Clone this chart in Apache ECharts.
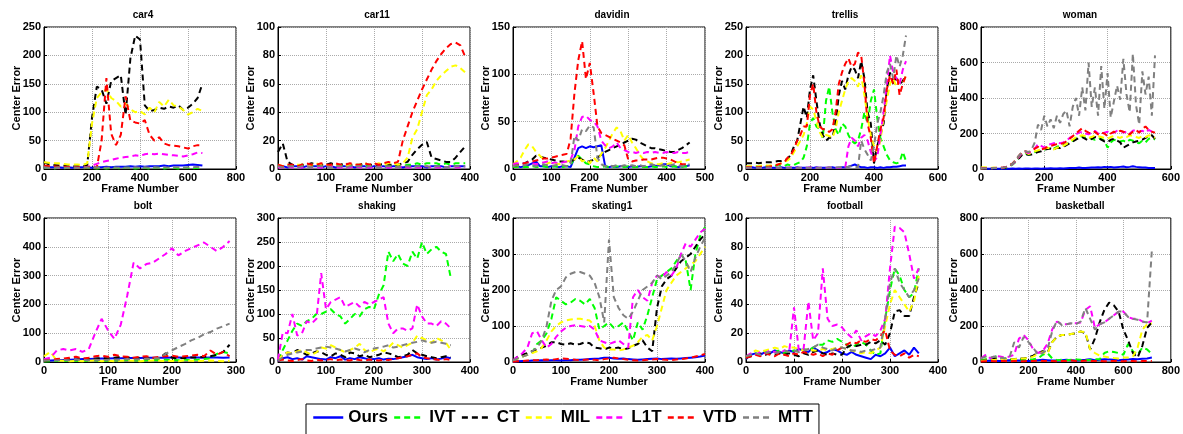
<!DOCTYPE html>
<html>
<head>
<meta charset="utf-8">
<script src="https://cdn.jsdelivr.net/npm/echarts@6/dist/echarts.min.js"></script>
<style>
  html, body { margin: 0; background: #fff; }
  #main { width: 1183px; height: 434px; }
</style>
</head>
<body>
<div id="main"></div>
<script>
// trackers, in legend order
const methods = ['Ours', 'IVT', 'CT', 'MIL', 'L1T', 'VTD', 'MTT']
const sequences = ['car4', 'car11', 'davidin', 'trellis', 'woman', 'bolt', 'shaking', 'skating1', 'football', 'basketball']
// frames between two samples, axis ranges and tick steps
const frameStep = [20, 10, 10, 10, 10, 10, 10, 10, 10, 20]
const xMax = [800, 400, 500, 600, 600, 300, 400, 400, 400, 800]
const xTick = [200, 100, 100, 200, 200, 100, 100, 100, 100, 200]
const yMax = [250, 100, 150, 250, 800, 500, 300, 400, 100, 800]
const yTick = [50, 20, 50, 50, 200, 100, 50, 100, 20, 200]

// center error per sequence: one row per tracker (Ours, IVT, CT, MIL, L1T, VTD, MTT)
const car4 = [
  [4,3,3,3,2,3,2,3,3,3,2,3,3,4,3,4,4,4,5,4,5,4,5,5,5,6,5,6,6,6,7,8,7,6],
  [2,2,1,2,1,2,1,2,1,2,2,1,2,1,2,2,1,2,2,1,2,2,1,2,2,1,2,2,1,2,2,1,2,2],
  [12,8,7,6,6,5,5,5,5,6,90,145,140,115,155,160,165,95,195,235,228,112,102,104,108,106,110,108,112,104,108,115,125,150],
  [12,11,10,10,9,8,8,8,7,10,80,125,135,140,125,120,110,115,105,100,102,96,108,100,118,110,122,112,110,104,96,100,106,102],
  [3,3,3,2,3,3,3,2,3,4,6,9,12,14,16,18,20,21,22,24,23,26,27,26,27,26,25,24,23,22,24,26,29,28],
  [6,5,5,4,4,3,3,3,2,3,4,2,50,160,62,42,60,128,85,82,80,86,60,50,56,45,42,41,40,38,36,40,42,42],
  [3,2,2,3,2,2,3,2,2,3,2,3,2,2,3,2,3,2,2,3,2,3,2,3,2,3,2,3,3,2,3,3,4,3]
]
const car11 = [
  [2,2,1,2,2,1,2,2,2,1,2,2,1,2,2,2,1,2,2,1,2,2,2,1,2,2,1,2,2,2,2,1,2,2,2,1,2,2,2,2],
  [2,2,2,2,2,3,2,2,3,2,2,3,2,2,3,2,2,2,3,2,2,3,2,2,3,2,2,3,3,4,3,4,4,4,3,4,3,4,4,4],
  [12,18,5,3,2,3,3,4,3,3,3,4,3,3,4,3,3,3,4,3,3,3,4,3,3,3,4,5,10,14,17,19,8,7,6,5,5,8,12,16],
  [3,2,3,2,3,3,2,3,4,3,3,2,3,3,2,3,3,3,4,3,3,4,3,4,4,3,4,8,22,28,40,52,56,62,66,69,72,73,71,68],
  [1,1,2,1,1,1,2,1,1,1,1,2,1,1,1,1,2,1,1,1,1,2,1,1,1,1,2,1,1,1,1,2,1,1,1,1,2,1,1,1],
  [3,2,3,3,2,3,4,3,3,4,3,3,4,3,3,4,3,3,4,3,4,3,4,5,4,5,20,30,40,48,56,63,70,76,81,85,88,89,87,79],
  [2,1,2,2,1,2,2,1,2,2,2,1,2,2,1,2,2,2,1,2,2,1,2,2,2,1,2,2,1,2,2,2,1,2,2,1,2,2,2,2]
]
const davidin = [
  [3,3,2,3,4,6,8,3,3,2,3,3,2,3,3,2,12,22,24,22,24,23,24,25,3,2,3,2,3,3,2,3,2,3,3,2,3,3,4,5,5,3,3,2,3,3,4],
  [2,2,3,2,2,3,2,2,3,2,2,3,2,2,3,4,12,14,10,6,5,3,2,2,3,2,2,3,2,2,3,2,2,3,2,2,3,2,2,3,2,2,3,2,2,3,2],
  [3,4,5,6,8,10,14,13,12,11,10,9,8,8,7,8,10,12,10,8,8,10,12,15,18,20,22,24,26,28,30,32,31,28,26,24,22,22,21,20,19,18,18,20,22,25,28],
  [5,8,12,20,26,24,18,14,10,6,7,6,5,6,8,9,10,14,8,10,6,12,8,16,22,30,38,44,40,30,36,28,22,15,10,8,6,5,5,6,5,6,8,7,8,9,10],
  [5,6,5,6,7,6,5,6,7,8,6,7,6,7,8,10,20,45,55,56,52,50,45,30,25,22,24,28,22,20,18,18,17,18,17,18,17,18,17,17,18,17,17,18,17,17,18],
  [3,4,5,6,7,8,9,10,11,11,12,13,14,15,16,32,80,115,135,95,112,80,45,38,36,34,32,30,28,25,10,8,9,9,10,10,10,11,12,12,11,10,8,6,5,5,5],
  [3,4,3,4,5,4,3,4,5,4,3,4,5,4,3,5,35,30,42,40,46,44,12,5,3,4,3,4,3,4,3,4,3,4,3,4,5,4,3,4,3,4,5,4,3,4,5]
]
const trellis = [
  [2,2,3,2,2,2,3,2,2,2,2,3,2,2,2,2,3,2,2,2,2,2,3,2,2,2,2,3,2,2,3,3,4,6,8,5,3,3,2,3,3,2,3,2,3,3,4,4,5,6,6],
  [3,4,3,5,4,6,5,4,6,5,7,6,5,8,6,7,10,12,20,40,80,90,75,70,55,120,145,100,70,60,80,75,60,50,45,50,70,100,80,120,140,90,55,40,25,15,12,10,12,30,14],
  [10,10,10,11,10,11,12,12,12,13,14,14,15,18,25,40,50,80,110,90,140,165,120,80,60,50,55,55,80,130,155,140,165,180,175,160,190,160,100,80,10,40,60,80,140,170,150,160,150,155,165],
  [5,5,5,5,5,6,6,6,6,7,8,10,12,15,20,30,40,50,60,80,110,105,85,65,55,60,58,55,70,100,120,140,155,160,155,145,165,130,90,60,40,30,50,90,120,150,160,145,155,150,165],
  [2,2,2,3,2,2,2,2,3,2,2,2,2,2,3,2,2,2,2,2,3,2,2,2,2,2,3,2,2,2,2,2,40,55,50,40,55,60,50,30,15,20,60,100,150,200,170,160,150,175,190],
  [3,3,3,3,3,4,4,4,5,6,8,10,12,20,25,35,50,60,75,75,130,150,100,75,70,70,65,70,100,150,170,185,195,180,185,205,200,150,80,55,10,40,70,90,140,165,150,175,130,150,165],
  [2,2,2,2,2,2,2,3,2,2,2,2,2,2,2,3,2,2,2,2,2,2,2,2,2,2,3,2,2,3,3,3,4,5,4,3,50,35,25,15,40,80,100,130,170,185,160,200,180,200,235]
]
const woman = [
  [2,2,2,2,3,2,2,3,2,2,3,2,3,2,3,3,2,3,3,2,3,3,4,3,3,4,3,4,5,5,6,8,6,5,7,9,8,10,8,12,10,12,8,10,12,14,10,12,15,12,10,8,8,6,5,5],
  [3,4,5,4,6,5,4,6,8,15,25,40,65,85,90,80,85,95,100,105,110,115,120,115,125,130,135,140,150,160,175,180,185,175,180,170,165,175,170,160,120,150,165,160,155,160,150,165,160,150,145,160,150,170,175,165],
  [2,3,4,3,5,4,5,6,10,18,30,45,60,80,85,80,82,90,95,100,108,112,115,110,120,118,125,135,145,155,165,175,180,170,160,170,180,175,165,155,150,165,170,160,150,120,130,140,150,155,160,165,175,185,190,170],
  [8,10,8,6,8,7,6,8,12,20,30,50,70,90,95,85,90,100,105,110,115,120,115,110,120,125,130,140,155,165,180,185,190,185,175,180,190,185,180,175,170,180,185,180,175,185,180,190,185,180,175,185,180,190,185,175],
  [4,5,6,5,6,7,6,8,12,18,28,45,70,90,95,90,100,115,140,130,120,135,140,145,150,145,150,160,175,185,195,205,210,200,195,205,215,200,195,205,210,200,205,215,220,205,210,200,215,220,210,215,205,220,210,200],
  [3,4,5,4,5,6,7,8,12,20,32,50,75,95,100,95,100,115,125,110,115,125,130,135,140,140,145,155,170,185,200,215,230,215,205,200,210,195,205,200,185,200,210,205,215,210,200,195,210,220,205,225,240,220,210,205],
  [3,4,5,4,5,6,7,8,12,18,30,50,75,95,100,95,110,150,250,220,300,240,280,230,300,260,310,330,240,350,400,300,460,330,600,350,460,300,580,340,540,290,380,470,390,620,420,320,650,360,250,550,420,520,300,640]
]
const bolt = [
  [3,5,6,7,8,9,10,10,11,12,12,13,13,14,14,14,15,15,15,15,16,16,15,16,16,15,16,16,15,16],
  [2,3,4,3,5,4,3,5,6,4,5,6,5,7,6,5,6,7,6,8,7,6,8,7,8,10,12,28,35,30],
  [5,6,8,7,10,8,12,10,12,14,12,15,18,16,14,15,12,14,13,30,15,12,14,16,15,18,20,25,35,60],
  [20,35,5,4,3,4,3,4,5,3,4,3,4,5,4,3,4,5,4,3,4,3,5,4,3,4,5,4,3,4],
  [10,15,40,45,40,45,35,45,100,150,110,80,130,230,345,325,340,345,360,375,395,370,385,395,405,415,400,385,400,420],
  [5,8,10,12,15,18,12,15,20,22,18,25,20,18,15,18,20,15,18,20,22,18,20,22,25,20,40,25,35,20],
  [5,6,5,7,6,8,7,6,8,7,8,9,8,10,9,10,11,12,14,28,40,52,62,75,84,96,104,116,124,133]
]
const shaking = [
  [2,8,10,6,8,5,12,10,8,6,5,10,8,12,5,8,6,10,8,5,6,8,5,7,6,8,10,12,15,10,8,6,8,5,7,10,8],
  [5,25,45,65,80,75,85,90,100,100,105,110,100,95,80,90,100,95,110,115,110,140,160,230,210,225,205,200,230,215,250,225,235,240,230,225,175],
  [5,15,20,18,25,20,15,18,22,20,15,12,18,15,10,20,18,12,15,10,12,15,20,18,15,10,12,15,25,18,15,12,10,8,10,12,10],
  [5,15,20,18,22,25,20,15,20,30,28,35,30,25,20,25,30,38,25,20,25,28,22,30,40,35,30,35,40,55,50,45,40,50,45,40,25],
  [5,62,60,100,55,60,85,80,90,185,110,125,130,135,115,120,125,115,125,120,125,130,135,80,60,70,70,65,70,120,95,80,80,75,85,80,70],
  [3,5,3,2,4,6,3,2,5,3,4,6,3,5,4,3,6,4,3,5,4,3,5,4,6,8,10,12,15,18,10,8,6,5,4,6,4],
  [3,10,15,18,20,22,25,25,28,30,32,30,28,25,22,25,28,25,20,25,28,30,32,35,30,32,35,38,40,42,45,42,40,42,40,38,35]
]
const skating1 = [
  [1,2,3,3,4,4,5,4,5,5,4,5,5,6,6,7,8,9,10,12,12,10,9,10,8,7,6,7,8,9,10,8,9,10,9,10,11,12,13,15,18],
  [5,10,15,20,25,50,60,80,120,180,170,160,165,175,170,160,175,150,90,100,110,95,100,110,85,60,110,90,130,180,230,240,250,260,280,300,280,200,300,350,375],
  [5,15,20,25,30,35,40,45,55,55,50,48,52,48,50,55,52,40,38,35,40,38,40,35,38,45,50,60,40,30,150,210,230,240,260,280,290,300,320,340,355],
  [5,10,15,20,25,30,40,60,85,100,110,115,118,120,120,118,115,100,60,40,35,35,32,35,40,45,55,70,75,60,100,150,200,220,240,250,260,270,280,300,320],
  [5,15,25,40,80,85,60,40,50,70,85,95,100,102,100,98,100,90,60,55,50,55,60,50,40,180,200,180,170,220,240,235,250,240,260,300,330,320,340,360,370],
  [1,2,3,4,5,5,6,7,6,8,10,9,8,6,5,6,7,6,5,8,10,12,10,8,6,5,4,5,6,7,8,7,6,5,7,8,10,12,15,18,22],
  [5,10,15,20,30,40,60,100,170,200,210,235,245,250,250,245,240,220,180,110,340,180,150,130,120,140,170,200,210,220,240,230,240,250,270,300,280,250,290,320,345]
]
const football = [
  [2,5,6,5,7,6,8,7,6,8,7,9,8,7,10,8,6,7,9,8,6,5,7,5,4,3,2,5,4,6,10,4,6,8,5,10,6],
  [3,5,6,5,7,6,7,8,6,7,8,7,9,8,10,12,12,15,14,16,14,12,10,12,14,12,8,5,6,30,50,65,60,50,45,48,65],
  [3,4,5,6,5,6,5,6,5,6,5,4,6,5,7,8,6,5,6,5,5,10,12,11,12,12,14,13,15,12,20,35,36,32,32,45,55],
  [3,6,8,7,8,9,10,9,11,10,10,9,8,9,8,8,9,8,9,10,10,9,8,7,6,7,6,8,10,25,40,50,45,40,35,42,60],
  [4,6,5,7,6,8,7,6,8,7,38,8,9,42,15,20,65,30,25,26,24,20,17,22,15,18,20,18,22,30,65,94,93,90,75,58,65],
  [3,4,5,4,6,5,4,6,5,4,6,5,7,6,5,6,4,6,5,8,10,12,14,13,15,14,16,15,18,22,8,5,4,6,3,5,4],
  [4,5,6,5,6,7,6,7,8,7,8,7,8,9,10,12,10,9,8,10,10,9,8,8,7,8,8,9,10,30,55,65,55,50,45,50,58]
]
const basketball = [
  [5,6,8,7,6,8,10,9,8,7,6,8,10,12,10,8,9,10,12,10,8,10,12,15,10,12,15,14,12,10,12,14,16,15,18,20,25],
  [10,15,20,30,25,20,15,10,15,12,14,15,20,40,50,20,10,12,10,12,14,12,10,12,15,15,50,60,55,50,40,100,60,40,80,70,45],
  [5,10,15,20,20,15,15,15,20,20,25,35,50,60,50,110,140,150,150,155,160,170,160,70,130,220,290,330,315,280,180,120,50,25,90,190,220],
  [5,8,10,12,15,15,15,15,18,20,22,30,45,55,45,110,140,150,150,155,160,170,165,70,50,35,30,25,22,20,25,25,30,80,180,210,215],
  [20,40,20,35,30,25,30,40,130,150,120,70,50,60,100,180,225,210,210,215,215,220,290,310,190,210,220,240,260,280,280,250,240,240,225,215,230],
  [3,4,5,4,6,5,4,6,5,4,6,5,7,6,5,6,4,6,5,8,6,5,7,6,5,6,4,5,6,5,4,6,5,4,5,6,5],
  [20,30,25,30,25,20,25,110,80,140,110,80,40,50,70,170,230,205,210,215,210,225,300,240,180,210,220,240,260,280,280,250,240,235,225,220,620]
]
const errors = [car4, car11, davidin, trellis, woman, bolt, shaking, skating1, football, basketball]

const colors = ['#0000ff', '#00ff00', '#000000', '#ffff00', '#ff00ff', '#ff0000', '#808080']

document.addEventListener('DOMContentLoaded', function () {
    const myChart = echarts.init(document.getElementById('main'))

    const lefts = [44, 278, 513, 746, 981]
    const tops = [27, 218]
    const heights = [142, 144]
    const plotWidth = 192
    const bold = { color: '#000', fontWeight: 'bold', fontFamily: 'Liberation Sans, Arial, sans-serif' }

    const grid = [], xAxis = [], yAxis = [], title = [], series = []

    sequences.forEach((name, i) => {
        const row = Math.floor(i / 5)
        const col = i % 5
        grid.push({
            left: lefts[col], top: tops[row], width: plotWidth, height: heights[row],
            show: true, borderColor: '#000', borderWidth: 1
        })
        title.push({
            text: name,
            left: lefts[col] + plotWidth / 2 - 2,
            top: tops[row] - 22,
            textAlign: 'center',
            textStyle: { ...bold, fontSize: 10 }
        })
        xAxis.push({
            gridIndex: i, type: 'value', min: 0, max: xMax[i], interval: xTick[i],
            name: 'Frame Number', nameLocation: 'middle', nameGap: 14,
            nameTextStyle: { ...bold, fontSize: 11 },
            axisLine: { lineStyle: { color: '#000' } },
            axisTick: { inside: true, length: 3, lineStyle: { color: '#000' } },
            axisLabel: { ...bold, fontSize: 11, margin: 3 },
            splitLine: { show: true, lineStyle: { color: '#aaa', type: 'dotted' } }
        })
        yAxis.push({
            gridIndex: i, type: 'value', min: 0, max: yMax[i], interval: yTick[i],
            name: 'Center Error', nameLocation: 'middle', nameGap: 22,
            nameMoveOverlap: false,
            nameTextStyle: { ...bold, fontSize: 11 },
            axisLine: { lineStyle: { color: '#000' } },
            axisTick: { inside: true, length: 3, lineStyle: { color: '#000' } },
            axisLabel: { ...bold, fontSize: 11, margin: 3 },
            splitLine: { show: true, lineStyle: { color: '#aaa', type: 'dotted' } }
        })
        errors[i].forEach((vals, m) => {
            series.push({
                name: methods[m],
                type: 'line',
                xAxisIndex: i,
                yAxisIndex: i,
                symbol: 'none',
                data: vals.map((v, k) => [k * frameStep[i], v]),
                lineStyle: {
                    color: colors[m],
                    width: 2,
                    type: m === 0 ? 'solid' : [6, 4]
                },
                itemStyle: { color: colors[m] }
            })
        })
    })

    const option = {
        animation: false,
        backgroundColor: '#fff',
        title,
        grid,
        xAxis,
        yAxis,
        legend: {
            data: methods,
            left: 306,
            top: 404,
            itemWidth: 30,
            itemHeight: 14,
            itemGap: 5,
            padding: [5, 6, 14, 6],
            borderColor: '#000',
            borderWidth: 1,
            itemStyle: { opacity: 0 },
            lineStyle: { width: 2.5 },
            textStyle: { ...bold, fontSize: 17 }
        },
        series
    }

    myChart.setOption(option)
})
</script>
</body>
</html>
